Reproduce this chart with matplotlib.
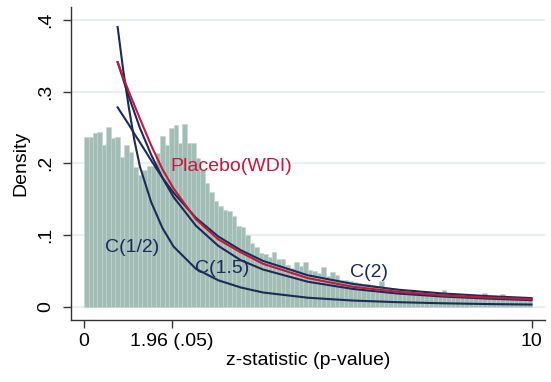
import numpy as np
import matplotlib.pyplot as plt

plt.rcParams['font.family'] = ['Liberation Sans', 'DejaVu Sans']

# histogram of z-statistics, bins of width 0.1 on [0, 10]
bin_edges = np.linspace(0, 10, 101)
density = [
    0.237, 0.236, 0.242, 0.243, 0.226, 0.251, 0.235, 0.237, 0.209, 0.225,
    0.216, 0.195, 0.184, 0.191, 0.196, 0.196, 0.214, 0.238, 0.226, 0.249,
    0.253, 0.228, 0.255, 0.228, 0.228, 0.207, 0.190, 0.172, 0.160, 0.148,
    0.140, 0.135, 0.133, 0.126, 0.112, 0.111, 0.100, 0.089, 0.084, 0.075,
    0.073, 0.070, 0.077, 0.067, 0.066, 0.058, 0.054, 0.063, 0.057, 0.062,
    0.051, 0.050, 0.047, 0.056, 0.043, 0.048, 0.045, 0.038, 0.037, 0.036,
    0.034, 0.033, 0.032, 0.032, 0.030, 0.029, 0.036, 0.028, 0.026, 0.026,
    0.025, 0.024, 0.023, 0.024, 0.022, 0.021, 0.022, 0.020, 0.019, 0.019,
    0.024, 0.018, 0.019, 0.017, 0.017, 0.016, 0.016, 0.015, 0.016, 0.019,
    0.015, 0.014, 0.014, 0.018, 0.013, 0.013, 0.013, 0.012, 0.012, 0.012,
]

# fitted densities
curve_x = [0.75, 0.875, 1.0, 1.125, 1.25, 1.5, 1.75, 2.0, 2.5, 3.0, 3.5, 4.0,
           5.0, 6.0, 7.0, 8.0, 9.0, 10.0]
c_half = [0.390, 0.330, 0.278, 0.232, 0.195, 0.146, 0.110, 0.084, 0.053, 0.037,
          0.027, 0.020, 0.0127, 0.0088, 0.0065, 0.0050, 0.0039, 0.0032]
c_15 = [0.341, 0.317, 0.293, 0.271, 0.249, 0.212, 0.180, 0.153, 0.113, 0.085,
        0.065, 0.052, 0.035, 0.025, 0.0186, 0.0144, 0.0115, 0.0093]
c_2 = [0.278, 0.266, 0.254, 0.241, 0.229, 0.204, 0.180, 0.159, 0.124, 0.098,
       0.079, 0.064, 0.044, 0.032, 0.024, 0.0187, 0.0150, 0.0122]
placebo = [0.341, 0.320, 0.300, 0.281, 0.262, 0.225, 0.192, 0.165, 0.122, 0.094,
           0.076, 0.060, 0.040, 0.028, 0.021, 0.016, 0.013, 0.0107]

x_ticks = [0, 1.96, 10]
x_tick_labels = ['0', '1.96 (.05)', '10']
y_ticks = [0, 0.1, 0.2, 0.3, 0.4]
y_tick_labels = ['0', '.1', '.2', '.3', '.4']

navy = '#1c2b57'
red = '#c8173a'

fig = plt.figure(figsize=(5.51, 3.82), dpi=100)
ax = fig.add_axes([0.129, 0.162, 0.860, 0.820])

for yt in y_ticks:
    ax.axhline(yt, color='#e8f0f2', lw=1.6, zorder=0)

ax.bar(bin_edges[:-1], density, width=0.1, align='edge',
       color='#a2bdb5', edgecolor='#c3d6d0', linewidth=0.4, zorder=1)

ax.plot(curve_x, c_half, color=navy, lw=1.5, zorder=3)
ax.plot(curve_x, c_15, color=navy, lw=1.5, zorder=3)
ax.plot(curve_x, c_2, color=navy, lw=1.5, zorder=3)
ax.plot(curve_x, placebo, color=red, lw=1.5, zorder=4)

ax.text(1.92, 0.195, 'Placebo(WDI)', color=red, fontsize=14, va='center', ha='left')
ax.text(0.47, 0.083, 'C(1/2)', color=navy, fontsize=14, va='center', ha='left')
ax.text(2.48, 0.053, 'C(1.5)', color=navy, fontsize=14, va='center', ha='left')
ax.text(5.94, 0.048, 'C(2)', color=navy, fontsize=14, va='center', ha='left')

ax.set_xlim(-0.29, 10.30)
ax.set_ylim(-0.0185, 0.418)
ax.set_xticks(x_ticks)
ax.set_xticklabels(x_tick_labels)
ax.set_yticks(y_ticks)
ax.set_yticklabels(y_tick_labels, rotation=90, va='center')
ax.tick_params(axis='both', labelsize=14, length=6, width=1, color='#333333')
ax.tick_params(axis='y', pad=6)

for side in ['top', 'right']:
    ax.spines[side].set_visible(False)
for side in ['left', 'bottom']:
    ax.spines[side].set_color('#333333')
    ax.spines[side].set_linewidth(1.0)

ax.set_xlabel('z-statistic (p-value)', fontsize=14, labelpad=1)
ax.set_ylabel('Density', fontsize=14, labelpad=6)

fig.savefig('out.png', dpi=100)
